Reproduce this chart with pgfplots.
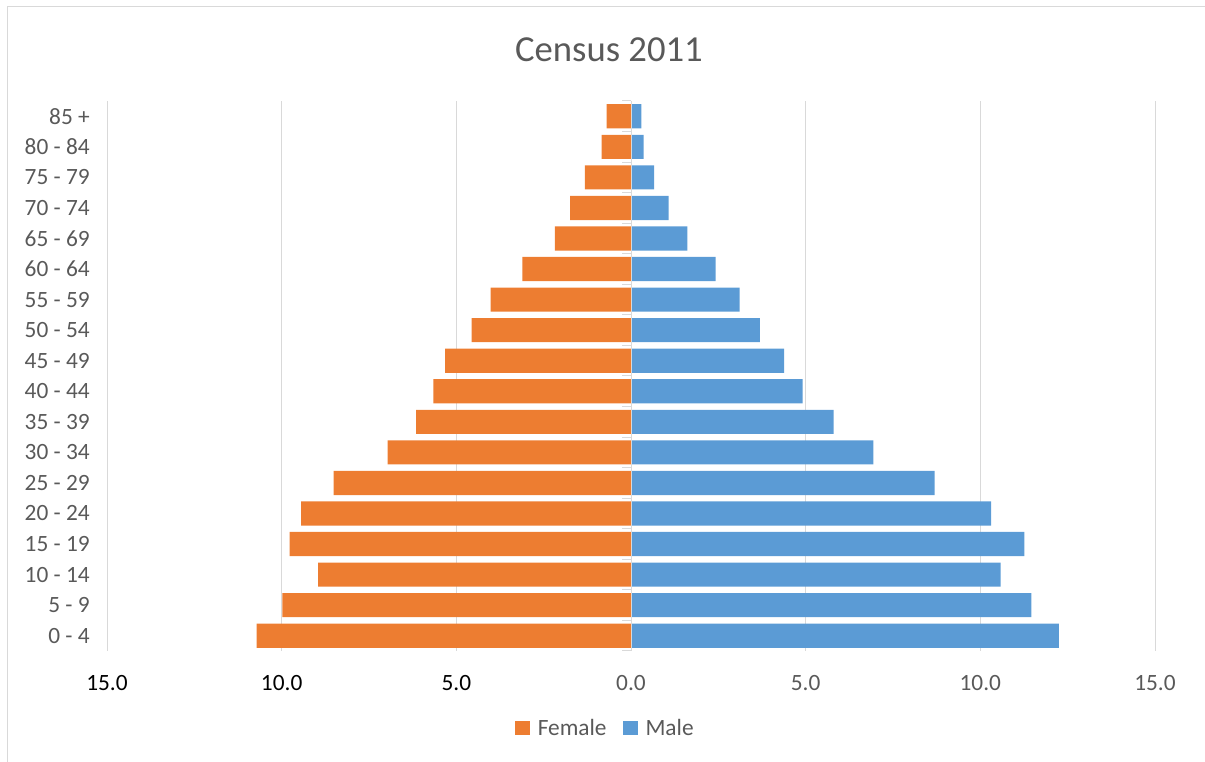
\documentclass[border=0pt]{standalone}
\usepackage{fontspec}
\setmainfont{Carlito}
\usepackage{pgfplots}
\usepackage{pgfplotstable}
\pgfplotsset{compat=1.18}

\definecolor{female}{HTML}{ED7D31}
\definecolor{male}{HTML}{5B9BD5}
\definecolor{labgray}{HTML}{595959}
\definecolor{gridgray}{HTML}{D9D9D9}

% age groups from the bottom (0 - 4) to the top (85 +); female kept negative
\pgfplotstableread{
pos female male
0  -10.72 12.25
1  -9.98  11.46
2  -8.96  10.58
3  -9.77  11.26
4  -9.44  10.31
5  -8.51  8.69
6  -6.97  6.94
7  -6.15  5.80
8  -5.66  4.91
9  -5.32  4.38
10 -4.56  3.69
11 -4.02  3.11
12 -3.11  2.42
13 -2.18  1.61
14 -1.74  1.08
15 -1.32  0.66
16 -0.84  0.36
17 -0.70  0.30
}\census

\begin{document}
\begin{tikzpicture}
\useasboundingbox (0,0) rectangle (903.75pt,571.5pt);
\draw[gridgray, line width=0.75pt] (5.25pt,-2pt) -- (5.25pt,566.25pt) -- (910pt,566.25pt);
\node[labgray, font=\fontsize{27.5}{33}\selectfont] at (456.75pt,534pt) {Census 2011};

\begin{axis}[
    at={(80.25pt,83.25pt)}, anchor=south west,
    scale only axis,
    width=786pt, height=412.5pt,
    xmin=-15, xmax=15,
    ymin=-0.5, ymax=17.5,
    axis line style={draw=none},
    major tick length=0pt,
    xmajorgrids,
    grid style={gridgray, line width=0.75pt},
    xtick={-15,-10,-5,0,5,10,15},
    xticklabels={\textcolor{black}{15.0},\textcolor{black}{10.0},\textcolor{black}{5.0},0.0,5.0,10.0,15.0},
    xticklabel style={anchor=north, inner sep=0pt, yshift=-18pt, labgray,
        font=\fontsize{17.5}{21}\selectfont},
    ytick={0,...,17},
    yticklabels={0 - 4,5 - 9,10 - 14,15 - 19,20 - 24,25 - 29,30 - 34,35 - 39,40 - 44,
        45 - 49,50 - 54,55 - 59,60 - 64,65 - 69,70 - 74,75 - 79,80 - 84,85 +},
    yticklabel style={anchor=east, inner sep=0pt, xshift=-12.75pt, labgray,
        font=\fontsize{17.5}{21}\selectfont},
    legend columns=2,
    legend style={at={(0.4757,-0.14)}, anchor=center, draw=none, fill=none,
        font=\fontsize{17.5}{21}\selectfont, text=labgray,
        /tikz/every odd column/.append style={column sep=4pt},
        /tikz/every even column/.append style={column sep=10pt}},
    legend image code/.code={\fill[#1] (0pt,-5.6pt) rectangle (11.25pt,5.6pt);},
]
\addplot[xbar, bar shift=0pt, bar width=0.79, fill=female, draw=none]
    table[x=female, y=pos] {\census};
\addlegendentry{Female}
\addplot[xbar, bar shift=0pt, bar width=0.79, fill=male, draw=none]
    table[x=male, y=pos] {\census};
\addlegendentry{Male}

% category axis at zero with its small ticks between the groups
\draw[gridgray, line width=0.75pt] (axis cs:0,-0.5) -- (axis cs:0,17.5);
\pgfplotsinvokeforeach{-0.5,0.5,...,17.5}{
    \draw[gridgray, line width=0.75pt] (axis cs:0,#1) -- ([xshift=-6.75pt]axis cs:0,#1);
}
\end{axis}
\end{tikzpicture}
\end{document}
